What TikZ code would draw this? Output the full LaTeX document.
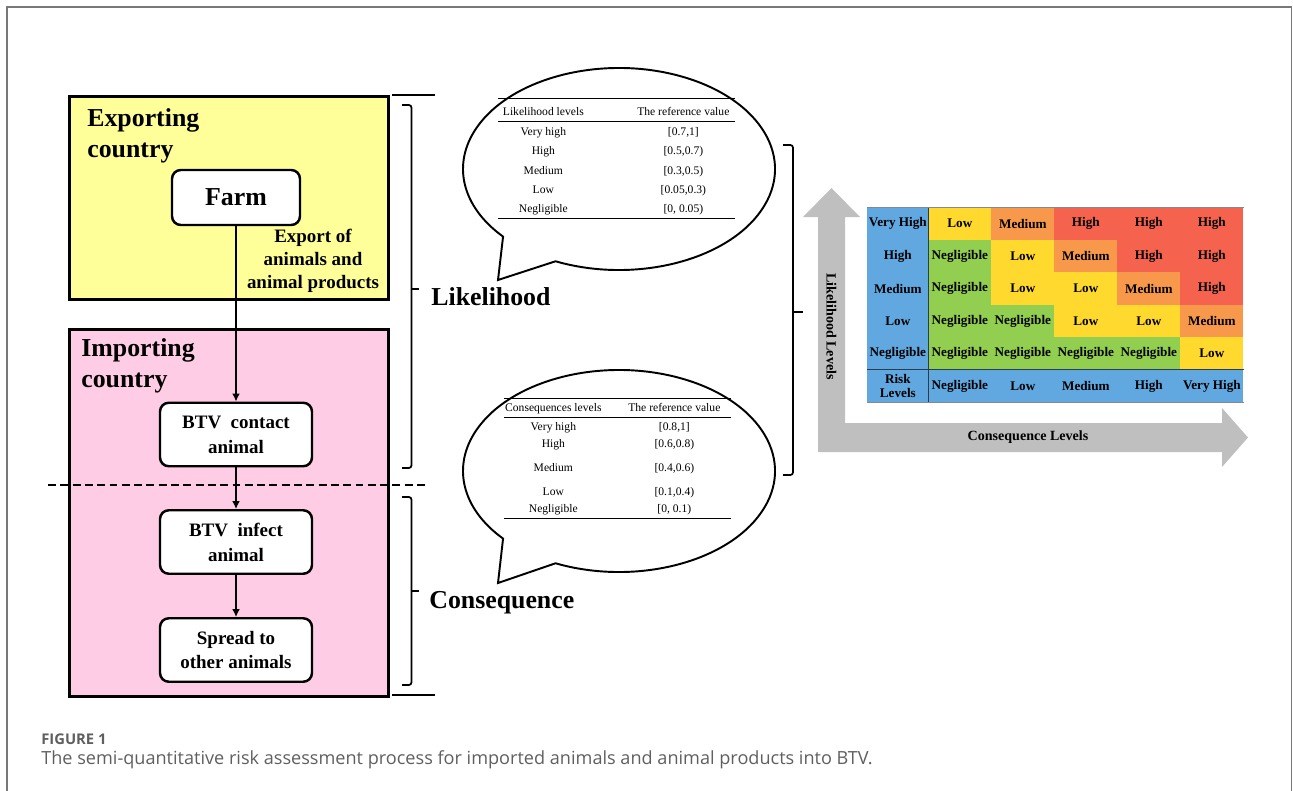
\documentclass[tikz,border=0pt]{standalone}
\usepackage{fontspec}
\setmainfont{Liberation Serif}
\newfontfamily\capfont{Open Sans}
\usepackage{array}
\usepackage{xcolor}
\definecolor{frame-gray}{RGB}{120,120,120}
\definecolor{yellow-100}{RGB}{255,255,153}
\definecolor{pink-100}{RGB}{255,204,230}
\definecolor{arrow-gray}{RGB}{191,191,191}
\definecolor{risk-blue}{RGB}{97,168,224}
\definecolor{risk-green}{RGB}{146,206,80}
\definecolor{risk-yellow}{RGB}{255,217,45}
\definecolor{risk-orange}{RGB}{247,152,74}
\definecolor{risk-red}{RGB}{245,98,78}
\definecolor{rule-dark}{RGB}{45,60,75}
\definecolor{caption-gray}{RGB}{95,95,95}
\usepackage{tikz}
\usetikzlibrary{arrows.meta,positioning}

\tikzset{
    stepnode/.style={draw, line width=1.4pt, fill=white, rounded corners=5pt,
        minimum width=3.04cm, minimum height=1.27cm, align=center,
        font=\fontsize{10.8}{14.2}\selectfont\bfseries},
    flowarrow/.style={line width=1.2pt, -{Latex[length=4.5pt,width=4.5pt]}},
    bracketline/.style={line width=1pt, rounded corners=1.5pt},
    bubble/.style={draw, line width=1.1pt, fill=white},
    cell/.style={minimum width=1.26cm, minimum height=0.65cm, anchor=north west,
        font=\fontsize{7.5}{8.4}\selectfont\bfseries}
}

\begin{document}
\begin{tikzpicture}[
    every node/.style={inner sep=0pt}
]

% Canvas and figure frame
\useasboundingbox (0,0) rectangle (25.86,-15.82);
\draw[frame-gray, line width=0.8pt] (0.14,-16.4) -- (0.14,-0.14) -- (25.83,-0.14) -- (25.83,-16.4);

% Exporting / importing country panels
\node[draw, line width=1.6pt, fill=yellow-100, minimum width=6.38cm, minimum height=4.06cm, anchor=north west] (export) at (1.36,-1.90) {};
\node[draw, line width=1.6pt, fill=pink-100, minimum width=6.38cm, minimum height=7.34cm, anchor=north west] (import) at (1.36,-6.56) {};
\node[anchor=west, align=left, font=\fontsize{14.7}{18}\selectfont\bfseries] (exporttitle) at (1.74,-2.72) {Exporting\\country};
\node[anchor=west, align=left, font=\fontsize{14.7}{18}\selectfont\bfseries] (importtitle) at (1.62,-7.32) {Importing\\country};

% Pathway steps
\node[stepnode, minimum width=2.56cm, minimum height=1.10cm, font=\fontsize{14.7}{18}\selectfont\bfseries] (farm) at (4.72,-3.95) {Farm};
\node[stepnode] (contact) at (4.72,-8.69) {BTV\ \ contact\\animal};
\node[stepnode] (infect) at (4.72,-10.84) {BTV\ \ infect\\animal};
\node[stepnode] (spread) at (4.72,-13.00) {Spread to\\other animals};
\node[align=center, font=\fontsize{10.8}{13}\selectfont\bfseries] (exportlbl) at (6.26,-5.22) {Export of\\animals and\\animal products};

\draw[flowarrow] (farm) -- (contact);
\draw[flowarrow] (contact) -- (infect);
\draw[flowarrow] (infect) -- (spread);

% Split between likelihood and consequence
\draw[line width=1.1pt, dash pattern=on 4.5pt off 2.5pt] (0.96,-9.70) -- (8.54,-9.70);
\draw[line width=1.2pt] (7.84,-1.90) -- (8.70,-1.90);
\draw[line width=1.2pt] (7.84,-13.90) -- (8.70,-13.90);

% Brackets
\draw[bracketline] (8.04,-2.10) -- (8.23,-2.10) -- (8.23,-9.36) -- (8.04,-9.36);
\draw[line width=1pt] (8.23,-5.78) -- (8.38,-5.78);
\draw[bracketline] (8.04,-9.94) -- (8.23,-9.94) -- (8.23,-13.70) -- (8.04,-13.70);
\draw[line width=1pt] (8.23,-11.82) -- (8.38,-11.82);
\node[anchor=west, font=\fontsize{14.7}{18}\selectfont\bfseries] (likelihood) at (8.62,-5.94) {Likelihood};
\node[anchor=west, font=\fontsize{14.7}{18}\selectfont\bfseries] (consequence) at (8.58,-12.05) {Consequence};

% Speech bubbles
\coordinate (lbub) at (12.38,-3.38);
\coordinate (cbub) at (12.38,-9.42);
\draw[bubble] (9.96,-5.60) -- ([shift={(246:3.12 and 2.02)}]lbub) arc[start angle=246, end angle=582, x radius=3.12, y radius=2.02] -- cycle;
\draw[bubble] (9.96,-11.66) -- ([shift={(246:3.12 and 2.02)}]cbub) arc[start angle=246, end angle=582, x radius=3.12, y radius=2.02] -- cycle;

\node[anchor=north west, font=\fontsize{6.6}{8}\selectfont] (liketab) at (9.96,-1.96) {%
\renewcommand{\arraystretch}{1.37}%
\setlength{\arrayrulewidth}{0.6pt}%
\begin{tabular}{@{}>{\centering\arraybackslash}p{1.8cm}@{\hspace{0.86cm}}>{\centering\arraybackslash}p{2.08cm}@{}}
\hline
\rule{0pt}{9pt}Likelihood levels & The reference value\\
\hline
Very high & [0.7,1]\\
High & [0.5,0.7)\\
Medium & [0.3,0.5)\\
Low & [0.05,0.3)\\
Negligible & [0, 0.05)\\
\hline
\end{tabular}};

\node[anchor=north west, font=\fontsize{6.6}{8}\selectfont] (constab) at (10.08,-7.96) {%
\renewcommand{\arraystretch}{1.24}%
\setlength{\arrayrulewidth}{0.6pt}%
\begin{tabular}{@{}>{\centering\arraybackslash}p{1.96cm}@{\hspace{0.3cm}}>{\centering\arraybackslash}p{2.28cm}@{}}
\hline
Consequences levels & The reference value\\
\hline
Very high & [0.8,1]\\
High & [0.6,0.8)\\[0.13cm]
Medium & [0.4,0.6)\\[0.13cm]
Low & [0.1,0.4)\\
Negligible & [0, 0.1)\\
\hline
\end{tabular}};

\draw[bracketline] (15.66,-2.90) -- (15.86,-2.90) -- (15.86,-9.50) -- (15.66,-9.50);
\draw[line width=1pt] (15.86,-6.24) -- (16.06,-6.24);

% Axes of the risk matrix
\fill[arrow-gray] (16.36,-9.04) -- (16.36,-4.34) -- (16.06,-4.34) -- (16.63,-3.76) -- (17.20,-4.34) -- (16.90,-4.34)
    -- (16.90,-8.46) -- (24.44,-8.46) -- (24.44,-8.16) -- (24.96,-8.75) -- (24.44,-9.34) -- (24.44,-9.04) -- cycle;
\node[rotate=-90, font=\fontsize{8}{9}\selectfont\bfseries] (likelvl) at (16.63,-6.53) {Likelihood Levels};
\node[font=\fontsize{8}{9}\selectfont\bfseries] (conslvl) at (20.56,-8.74) {Consequence Levels};

% Risk matrix
\fill[risk-blue] (17.34,-4.14) rectangle (24.86,-8.04);
\foreach \lvl [count=\r] in {Very High, High, Medium, Low, Negligible}
    \node[cell, minimum width=1.22cm] (lv-\r) at (17.34,{-4.14-0.65*(\r-1)}) {\lvl};
\foreach \r/\row in {
    1/{Low/risk-yellow,Medium/risk-orange,High/risk-red,High/risk-red,High/risk-red},
    2/{Negligible/risk-green,Low/risk-yellow,Medium/risk-orange,High/risk-red,High/risk-red},
    3/{Negligible/risk-green,Low/risk-yellow,Low/risk-yellow,Medium/risk-orange,High/risk-red},
    4/{Negligible/risk-green,Negligible/risk-green,Low/risk-yellow,Low/risk-yellow,Medium/risk-orange},
    5/{Negligible/risk-green,Negligible/risk-green,Negligible/risk-green,Negligible/risk-green,Low/risk-yellow}}
    \foreach \txt/\col [count=\c] in \row
        \node[cell, fill=\col] (c-\r-\c) at ({18.56+1.26*(\c-1)},{-4.14-0.65*(\r-1)}) {\txt};
\node[cell, minimum width=1.22cm, align=center] (risklbl) at (17.34,-7.39) {Risk\\Levels};
\foreach \txt [count=\c] in {Negligible, Low, Medium, High, Very High}
    \node[cell] (rl-\c) at ({18.56+1.26*(\c-1)},-7.39) {\txt};
\draw[rule-dark, line width=0.8pt] (lv-1.north east) -- (risklbl.south east);
\draw[rule-dark, line width=0.8pt] (risklbl.north west) -- (rl-5.north east);
\draw[rule-dark!60, line width=0.4pt] (lv-1.north west) -- (c-1-5.north east);
\draw[rule-dark!60, line width=0.4pt] (risklbl.south west) -- (rl-5.south east);

% Caption
\node[anchor=west, text=caption-gray, font=\capfont\bfseries\fontsize{8.4}{10}\selectfont] (figlabel) at (0.82,-14.78) {FIGURE 1};
\node[anchor=west, text=caption-gray, font=\capfont\fontsize{10.3}{12}\selectfont] (figcaption) at (0.82,-15.20) {The semi-quantitative risk assessment process for imported animals and animal products into BTV.};

\end{tikzpicture}
\end{document}
